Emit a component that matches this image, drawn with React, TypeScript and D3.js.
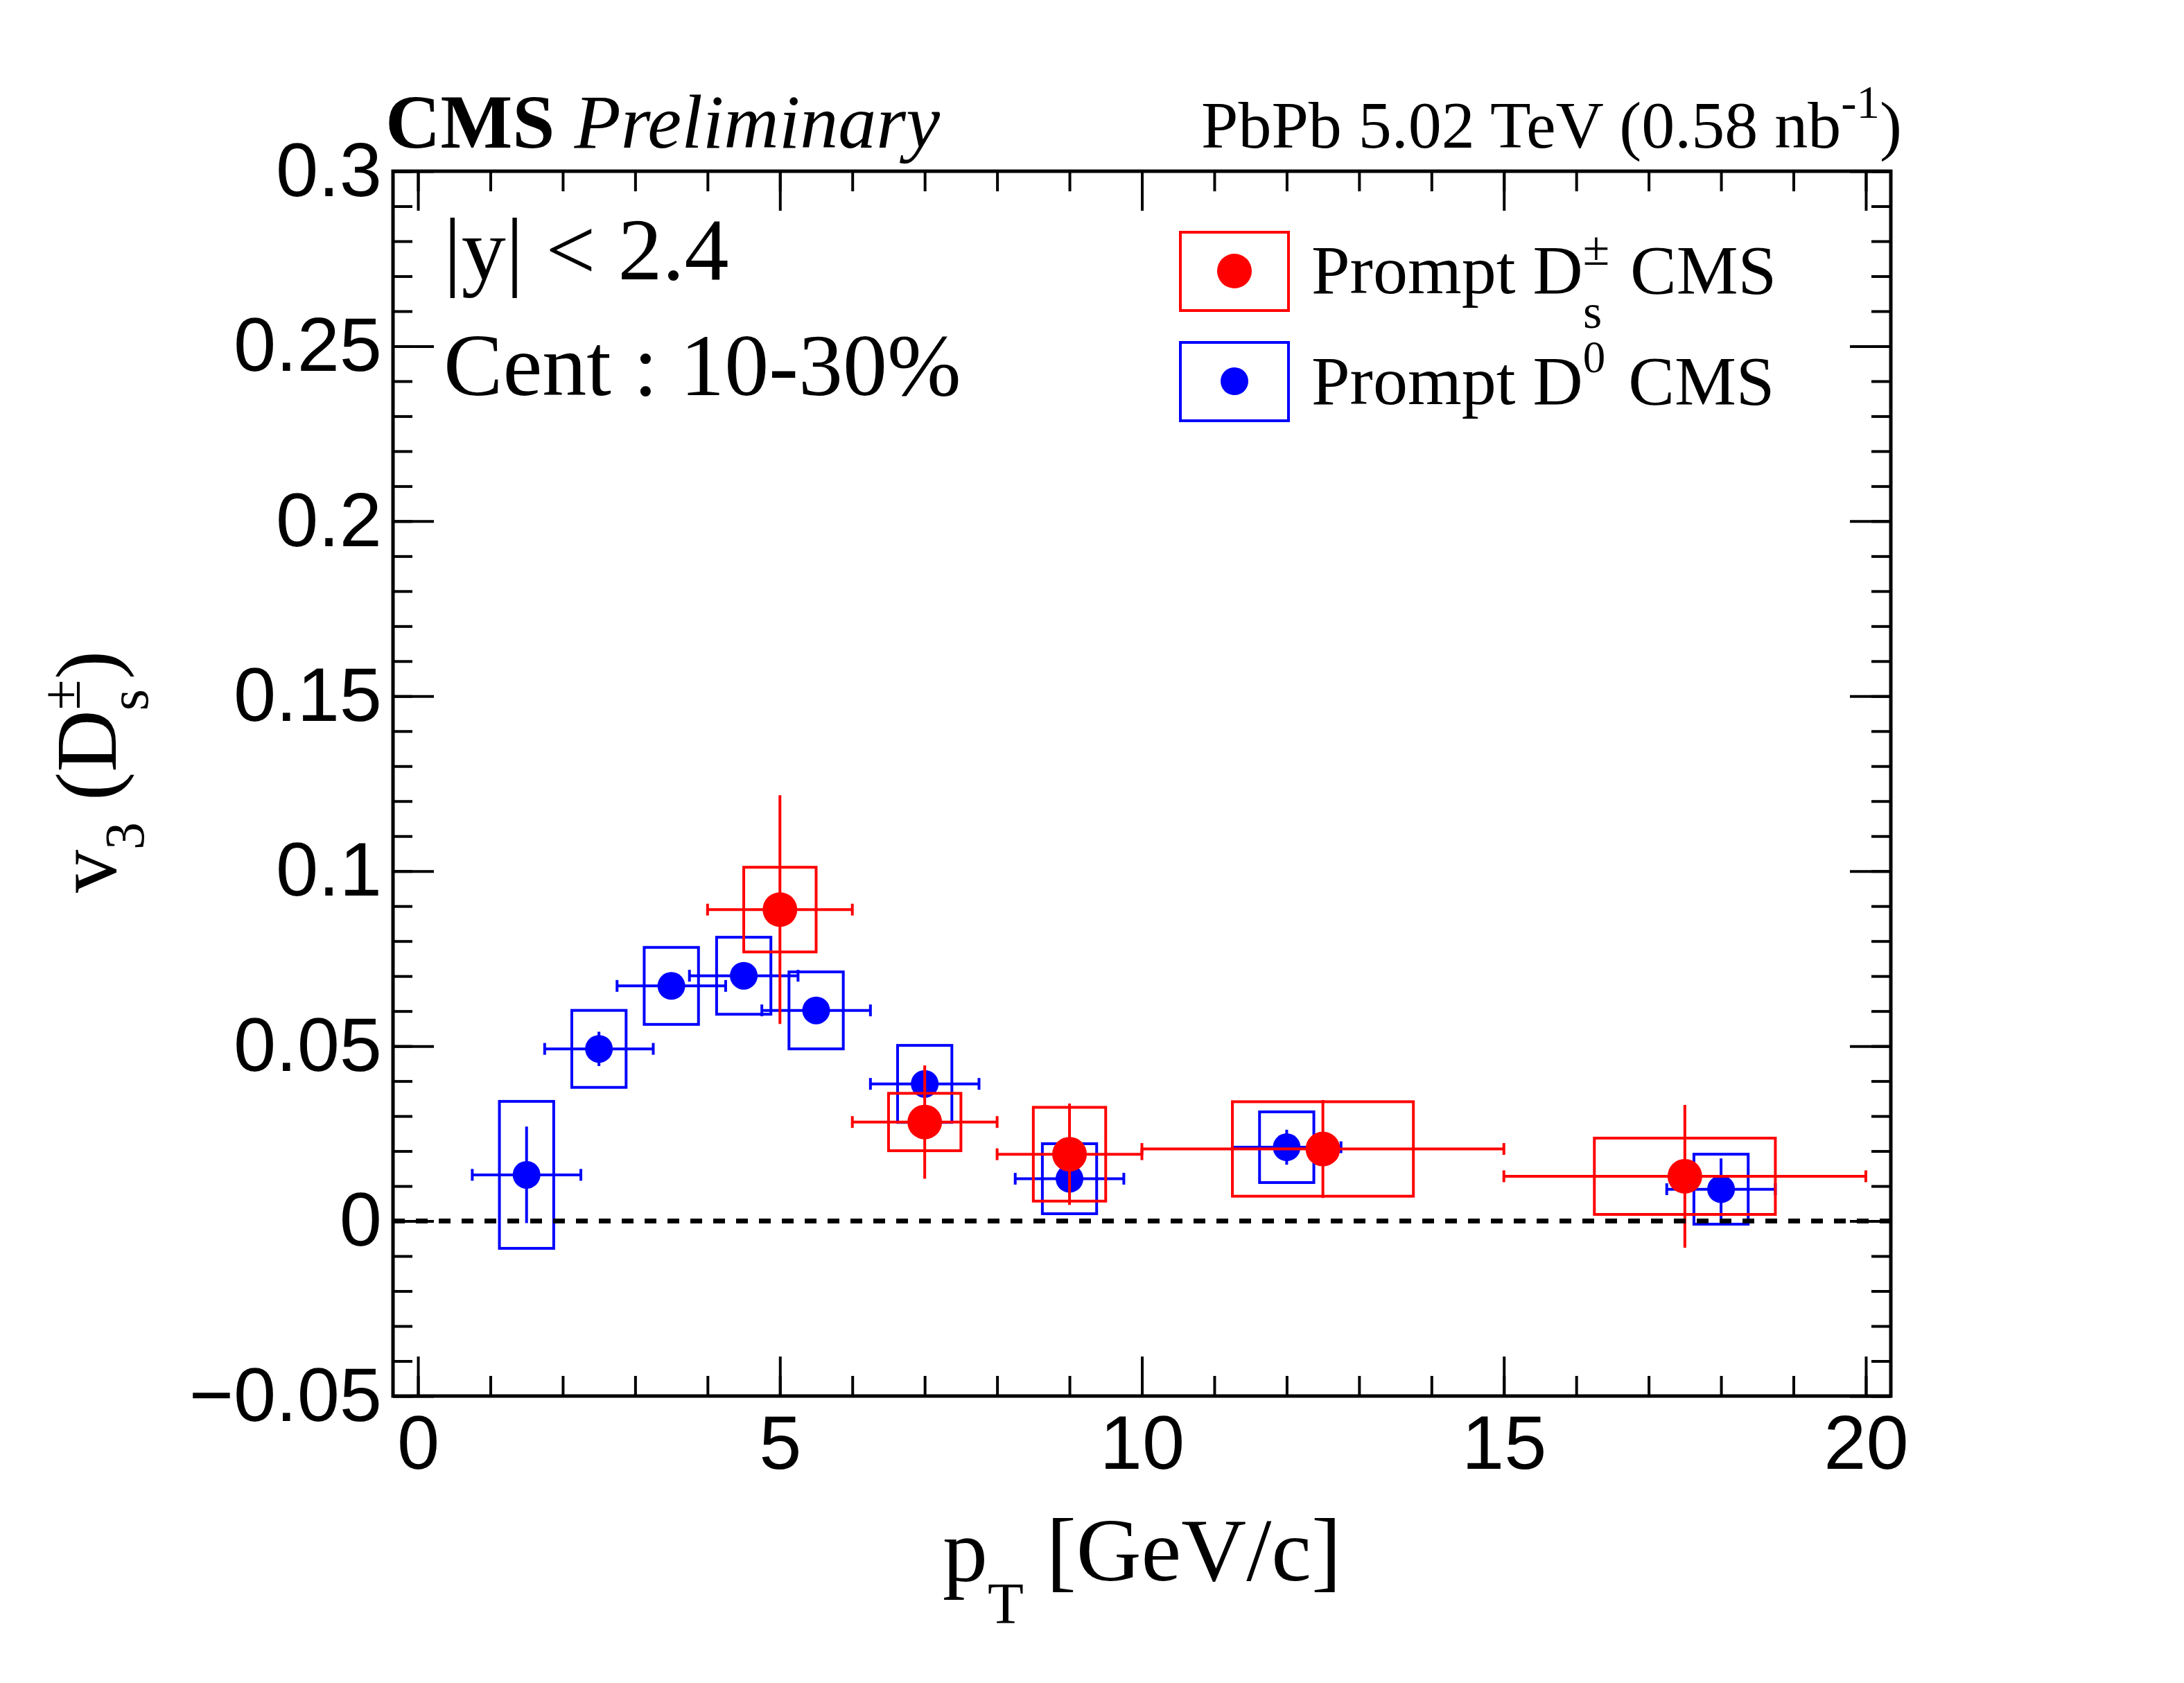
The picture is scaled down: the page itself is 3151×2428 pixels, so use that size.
import { useEffect, useRef } from 'react';
import * as d3 from 'd3';

// Prompt Ds (red)
const ptDs = [5, 7, 9, 12.5, 17.5];
const ptDsLow = [4, 6, 8, 10, 15];
const ptDsHigh = [6, 8, 10, 15, 20];
const v3Ds = [0.089, 0.0283, 0.0191, 0.0206, 0.0128];
const statDs = [0.0327, 0.0162, 0.0145, 0.014, 0.0204];
const systDs = [0.0121, 0.0082, 0.0134, 0.0135, 0.0109];
const boxHalfDs = [0.5, 0.5, 0.5, 1.25, 1.25];

// Prompt D0 (blue)
const ptD0 = [1.5, 2.5, 3.5, 4.5, 5.5, 7, 9, 12, 18];
const v3D0 = [0.0132, 0.0492, 0.0672, 0.0701, 0.0602, 0.0392, 0.0121, 0.0211, 0.0091];
const statD0 = [0.0138, 0.0049, 0.003, 0.003, 0.003, 0.003, 0.003, 0.005, 0.0088];
const systD0 = [0.021, 0.011, 0.011, 0.011, 0.011, 0.011, 0.01, 0.0101, 0.01];
const xErrD0 = [0.75, 0.75, 0.75, 0.75, 0.75, 0.75, 0.75, 0.75, 0.75];
const boxHalfD0 = [0.375, 0.375, 0.375, 0.375, 0.375, 0.375, 0.375, 0.375, 0.375];

// axis ticks
const xMajor = [0, 5, 10, 15, 20];
const xMinor = d3.range(0, 21);
const yMajor = [-0.05, 0, 0.05, 0.1, 0.15, 0.2, 0.25, 0.3];
const yMinor = d3.range(-5, 31).map((i) => i / 100);

const SERIF = 'Liberation Serif';
const SANS = 'Liberation Sans';

type Pt = { x: number; y: number; lo: number; hi: number; stat: number; syst: number; bh: number };

export default function App() {
  const svgRef = useRef<SVGSVGElement>(null);

  useEffect(() => {
    const svg = d3.select(svgRef.current);
    svg.selectAll('*').remove();

    const left = 567, right = 2728, top = 247, bottom = 2014;
    const x = d3.scaleLinear().domain([-0.345, 20.345]).range([left, right]);
    const y = d3.scaleLinear().domain([-0.05, 0.3]).range([bottom, top]);

    svg.append('rect').attr('width', 3151).attr('height', 2428).attr('fill', '#fff');

    const addAxis = (axis: any, transform: string, labels: boolean) => {
      const g = svg.append('g').attr('transform', transform).call(axis);
      g.select('.domain').remove();
      g.selectAll('line').attr('stroke', '#000').attr('stroke-width', 4);
      g.attr('font-family', SANS).attr('font-size', 110);
      if (labels) g.selectAll('text').attr('fill', '#000');
      else g.selectAll('text').remove();
      return g;
    };
    const noLabel = () => '';

    addAxis(d3.axisBottom(x).tickValues(xMinor).tickSize(-29).tickFormat(noLabel), `translate(0,${bottom})`, false);
    addAxis(
      d3.axisBottom(x).tickValues(xMajor).tickSize(-57).tickPadding(27).tickFormat(d3.format('d')),
      `translate(0,${bottom})`,
      true
    );
    addAxis(d3.axisTop(x).tickValues(xMinor).tickSize(-29).tickFormat(noLabel), `translate(0,${top})`, false);
    addAxis(d3.axisTop(x).tickValues(xMajor).tickSize(-57).tickFormat(noLabel), `translate(0,${top})`, false);
    addAxis(d3.axisLeft(y).tickValues(yMinor).tickSize(-28).tickFormat(noLabel), `translate(${left},0)`, false);
    addAxis(
      d3.axisLeft(y).tickValues(yMajor).tickSize(-59).tickPadding(16).tickFormat(d3.format('~g')),
      `translate(${left},0)`,
      true
    );
    addAxis(d3.axisRight(y).tickValues(yMinor).tickSize(-28).tickFormat(noLabel), `translate(${right},0)`, false);
    addAxis(d3.axisRight(y).tickValues(yMajor).tickSize(-59).tickFormat(noLabel), `translate(${right},0)`, false);

    svg
      .append('rect')
      .attr('x', left)
      .attr('y', top)
      .attr('width', right - left)
      .attr('height', bottom - top)
      .attr('fill', 'none')
      .attr('stroke', '#000')
      .attr('stroke-width', 5);

    const drawSeries = (pts: Pt[], color: string, r: number) => {
      const g = svg.append('g');
      const cap = 8.5;
      pts.forEach((p) => {
        g.append('rect')
          .attr('x', x(p.x - p.bh))
          .attr('y', y(p.y + p.syst))
          .attr('width', x(p.x + p.bh) - x(p.x - p.bh))
          .attr('height', y(p.y - p.syst) - y(p.y + p.syst))
          .attr('fill', 'none')
          .attr('stroke', color)
          .attr('stroke-width', 4);
        g.append('line')
          .attr('x1', x(p.lo)).attr('x2', x(p.hi))
          .attr('y1', y(p.y)).attr('y2', y(p.y))
          .attr('stroke', color).attr('stroke-width', 4);
        [p.lo, p.hi].forEach((e) =>
          g.append('line')
            .attr('x1', x(e)).attr('x2', x(e))
            .attr('y1', y(p.y) - cap).attr('y2', y(p.y) + cap)
            .attr('stroke', color).attr('stroke-width', 4)
        );
        g.append('line')
          .attr('x1', x(p.x)).attr('x2', x(p.x))
          .attr('y1', y(p.y + p.stat)).attr('y2', y(p.y - p.stat))
          .attr('stroke', color).attr('stroke-width', 4);
        g.append('circle').attr('cx', x(p.x)).attr('cy', y(p.y)).attr('r', r).attr('fill', color);
      });
    };

    const d0Pts: Pt[] = ptD0.map((v, i) => ({
      x: v, y: v3D0[i], lo: v - xErrD0[i], hi: v + xErrD0[i], stat: statD0[i], syst: systD0[i], bh: boxHalfD0[i],
    }));
    const dsPts: Pt[] = ptDs.map((v, i) => ({
      x: v, y: v3Ds[i], lo: ptDsLow[i], hi: ptDsHigh[i], stat: statDs[i], syst: systDs[i], bh: boxHalfDs[i],
    }));
    drawSeries(d0Pts, '#0000ff', 20);
    drawSeries(dsPts, '#ff0000', 25);

    // zero line
    svg
      .append('line')
      .attr('x1', left).attr('x2', right)
      .attr('y1', y(0)).attr('y2', y(0))
      .attr('stroke', '#000').attr('stroke-width', 7).attr('stroke-dasharray', '17 16');

    // header
    const cms = svg.append('text').attr('x', 556).attr('y', 213).attr('font-family', SERIF).attr('font-size', 110);
    cms.append('tspan').attr('font-weight', 'bold').text('CMS');
    cms.append('tspan').attr('font-style', 'italic').attr('dx', 28).text('Preliminary');

    const lumi = svg.append('text').attr('x', 1733).attr('y', 213).attr('font-family', SERIF).attr('font-size', 96);
    lumi.append('tspan').text('PbPb 5.02 TeV (0.58 nb');
    lumi.append('tspan').attr('font-size', 67).attr('dy', -43).text('-1');
    lumi.append('tspan').attr('dy', 43).text(')');

    svg.append('text').attr('x', 640).attr('y', 403).attr('font-family', SERIF).attr('font-size', 128).text('|y| < 2.4');
    svg.append('text').attr('x', 640).attr('y', 570).attr('font-family', SERIF).attr('font-size', 128).text('Cent : 10-30%');

    // legend
    const legRows = [
      { color: '#ff0000', r: 25, cy: 391 },
      { color: '#0000ff', r: 20, cy: 550 },
    ];
    legRows.forEach((row) => {
      svg.append('rect')
        .attr('x', 1703).attr('y', row.cy - 56).attr('width', 156).attr('height', 113)
        .attr('fill', 'none').attr('stroke', row.color).attr('stroke-width', 4);
      svg.append('circle').attr('cx', 1781).attr('cy', row.cy).attr('r', row.r).attr('fill', row.color);
    });
    const l1 = svg.append('text').attr('x', 1892).attr('y', 423).attr('font-family', SERIF).attr('font-size', 100);
    l1.append('tspan').text('Prompt D');
    l1.append('tspan').attr('font-size', 70).attr('dy', -41).text('±');
    const l1s = svg.append('text').attr('x', 2284).attr('y', 473).attr('font-family', SERIF).attr('font-size', 70);
    l1s.text('s');
    svg.append('text').attr('x', 2352).attr('y', 423).attr('font-family', SERIF).attr('font-size', 100).text('CMS');
    const l2 = svg.append('text').attr('x', 1892).attr('y', 583).attr('font-family', SERIF).attr('font-size', 100);
    l2.append('tspan').text('Prompt D');
    l2.append('tspan').attr('font-size', 65).attr('dy', -46).text('0');
    l2.append('tspan').attr('dx', 8).attr('dy', 46).text(' CMS');

    // axis titles
    const xt = svg.append('text').attr('x', 1360).attr('y', 2280).attr('font-family', SERIF).attr('font-size', 130);
    xt.append('tspan').text('p');
    xt.append('tspan').attr('font-size', 85).attr('dy', 62).text('T');
    xt.append('tspan').attr('dy', -62).text(' [GeV/c]');

    const yt = svg
      .append('text')
      .attr('transform', 'translate(167,1288) rotate(-90)')
      .attr('font-family', SERIF)
      .attr('font-size', 124);
    yt.append('tspan').text('v');
    yt.append('tspan').attr('font-size', 80).attr('dy', 40).text('3');
    yt.append('tspan').attr('dy', -40).text(' (D');
    yt.append('tspan').attr('font-size', 80).attr('dy', -52).text('±');
    yt.append('tspan').attr('font-size', 80).attr('dx', -45).attr('dy', 98).text('s');
    yt.append('tspan').attr('dx', 14).attr('dy', -46).text(')');
  }, []);

  return (
    <svg
      ref={svgRef}
      width={3151}
      height={2428}
      style={{ position: 'absolute', left: 0, top: 0, display: 'block' }}
    />
  );
}
